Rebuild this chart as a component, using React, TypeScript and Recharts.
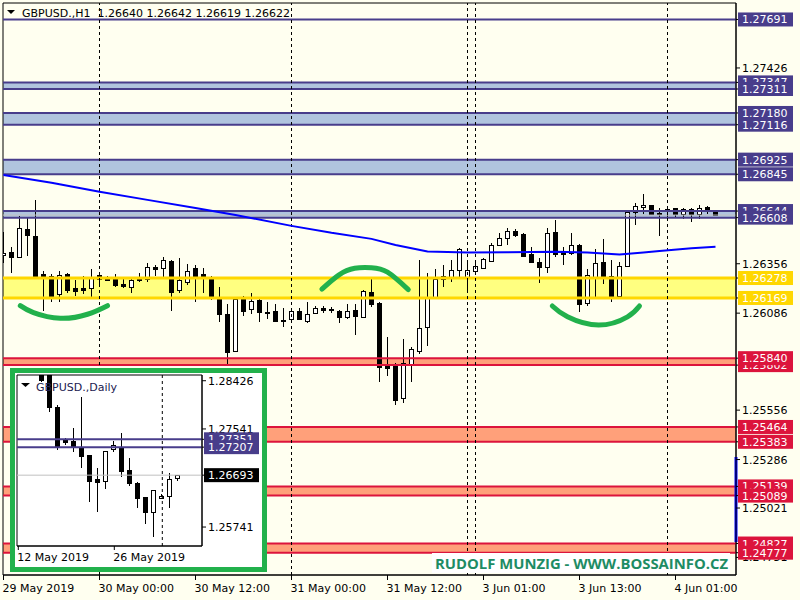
import React from "react";
import { ComposedChart, Bar, Line, XAxis, YAxis, ReferenceArea, ReferenceLine } from "recharts";

const FONT = "DejaVu Sans, sans-serif";

// GBPUSD H1, bar 0 = 29 May 12:00
const h1Open = [
  1.26404, 1.2642, 1.26394, 1.26546, 1.26508, 1.263, 1.26289, 1.26189, 1.26298, 1.26224,
  1.26225, 1.26225, 1.26294, 1.2628, 1.26282, 1.26245, 1.2623, 1.26278, 1.26271, 1.26338,
  1.26334, 1.26371, 1.26213, 1.26258, 1.26331, 1.263, 1.26285, 1.26173, 1.26081, 1.25881,
  1.26167, 1.26107, 1.26158, 1.26094, 1.261, 1.26049, 1.26053, 1.26096, 1.26045, 1.26085,
  1.26114, 1.2611, 1.26098, 1.26066, 1.26103, 1.26066, 1.26203, 1.26142, 1.25799, 1.25799,
  1.2562, 1.25806, 1.25881, 1.2601, 1.26176, 1.26271, 1.26282, 1.2632, 1.26276, 1.26315,
  1.26334, 1.26372, 1.26461, 1.26498, 1.26535, 1.26518, 1.26409, 1.26366, 1.2634, 1.26528,
  1.26416, 1.26416, 1.26461, 1.2614, 1.26285, 1.26364, 1.26289, 1.2618, 1.26344, 1.26641,
  1.26665, 1.26676, 1.26632, 1.26643, 1.26659, 1.26626, 1.26654, 1.26626, 1.26665, 1.2664,
];
const h1High = [
  1.26531, 1.26449, 1.26618, 1.26608, 1.26705, 1.26317, 1.263, 1.26318, 1.26303, 1.26267,
  1.26289, 1.26327, 1.26303, 1.26291, 1.26298, 1.26273, 1.2628, 1.26303, 1.26358, 1.26349,
  1.26393, 1.26375, 1.26386, 1.26355, 1.26349, 1.26331, 1.2629, 1.2623, 1.26136, 1.26173,
  1.2618, 1.26194, 1.26173, 1.26145, 1.26136, 1.26112, 1.26112, 1.26112, 1.26145, 1.26125,
  1.26125, 1.26118, 1.26103, 1.26135, 1.26136, 1.26213, 1.26271, 1.26145, 1.25957, 1.25812,
  1.25943, 1.25903, 1.26376, 1.26308, 1.26327, 1.26349, 1.26376, 1.2644, 1.26376, 1.26376,
  1.26386, 1.26472, 1.26525, 1.2655, 1.26546, 1.26525, 1.26446, 1.26386, 1.26553, 1.26595,
  1.26449, 1.26522, 1.26465, 1.26327, 1.26435, 1.26491, 1.26376, 1.26367, 1.2665, 1.26687,
  1.26736, 1.26678, 1.26659, 1.26659, 1.26662, 1.26662, 1.26659, 1.26677, 1.26673, 1.26642,
];
const h1Low = [
  1.26362, 1.26303, 1.2639, 1.264, 1.26285, 1.261, 1.26149, 1.26149, 1.26198, 1.2618,
  1.26191, 1.26176, 1.2623, 1.26262, 1.26229, 1.26221, 1.26198, 1.26258, 1.26258, 1.26289,
  1.26271, 1.261, 1.26198, 1.2624, 1.26149, 1.26194, 1.26158, 1.2604, 1.25795, 1.25876,
  1.26071, 1.26081, 1.2604, 1.26055, 1.2604, 1.26013, 1.26034, 1.26049, 1.26034, 1.26081,
  1.26088, 1.26088, 1.26031, 1.26053, 1.25966, 1.26063, 1.26121, 1.25711, 1.2574, 1.25584,
  1.25596, 1.25711, 1.25863, 1.25907, 1.26171, 1.2623, 1.26258, 1.26276, 1.26198, 1.26294,
  1.26331, 1.26366, 1.26458, 1.26458, 1.26504, 1.26398, 1.26365, 1.26252, 1.26303, 1.26394,
  1.26349, 1.26404, 1.26094, 1.26127, 1.26176, 1.26244, 1.26149, 1.26162, 1.2634, 1.26568,
  1.26627, 1.26627, 1.26509, 1.26595, 1.26613, 1.26603, 1.26582, 1.26603, 1.26627, 1.26619,
];
const h1Close = [
  1.26416, 1.26394, 1.2655, 1.26513, 1.26289, 1.2628, 1.2618, 1.26293, 1.26213, 1.26209,
  1.26213, 1.26282, 1.26271, 1.26267, 1.2624, 1.26234, 1.26265, 1.26267, 1.26336, 1.26329,
  1.26375, 1.26203, 1.26267, 1.26318, 1.26291, 1.2628, 1.26176, 1.26081, 1.25876, 1.26162,
  1.261, 1.26151, 1.26091, 1.26087, 1.26045, 1.26042, 1.26096, 1.26053, 1.26081, 1.26112,
  1.26103, 1.26101, 1.26063, 1.261, 1.26071, 1.26207, 1.26134, 1.2579, 1.25788, 1.25611,
  1.25812, 1.25889, 1.26004, 1.26173, 1.26271, 1.26287, 1.2632, 1.26435, 1.2632, 1.26342,
  1.2638, 1.26461, 1.26494, 1.26535, 1.26515, 1.264, 1.26367, 1.2634, 1.26522, 1.26409,
  1.26411, 1.26461, 1.26134, 1.26294, 1.26358, 1.2628, 1.26182, 1.26344, 1.26641, 1.2667,
  1.26676, 1.2663, 1.26628, 1.26654, 1.26626, 1.26654, 1.26626, 1.26662, 1.26643, 1.26622,
];

// moving average, read at a few bars
const maBars = [0, 6, 12, 18, 24, 29, 36, 41, 46, 49, 53, 58, 63, 69, 73, 77, 80, 82, 86, 89];
const maValues = [
  1.26841, 1.26799, 1.2675, 1.26705, 1.26661, 1.26623, 1.26563, 1.26525, 1.26492, 1.26459,
  1.26423, 1.26417, 1.26419, 1.26422, 1.26417, 1.26406, 1.26417, 1.26426, 1.26441, 1.26449,
];

const timeTicks = [0, 12, 24, 36, 48, 60, 72, 84];
const timeLabels = [
  "29 May 2019", "30 May 00:00", "30 May 12:00", "31 May 00:00",
  "31 May 12:00", "3 Jun 01:00", "3 Jun 13:00", "4 Jun 01:00",
];
const daySeparators = [12, 36, 58, 59, 83];

const priceTicks = [1.27426, 1.26356, 1.26086, 1.25556, 1.25286, 1.25021, 1.24751];
const topLevel = 1.27691;
const blueBands = [[1.27347, 1.27311], [1.2718, 1.27116], [1.26925, 1.26845], [1.26644, 1.26608]];
const yellowBands = [[1.26278, 1.26169]];
const redBands = [[1.25802, 1.2584], [1.25464, 1.25383], [1.25139, 1.25089], [1.24827, 1.24777]];
const bidPrice = 1.26622;
const volumeSpan = [1.253, 1.24835];

// hand drawn arcs [bar, price]
const arcLeft = [[2.1, 1.26127], [3.75, 1.26089], [7.1, 1.26058], [10.5, 1.2608], [13, 1.26127]];
const arcMiddle = [[39.8, 1.26217], [41.9, 1.26294], [43.9, 1.26331], [46, 1.26334], [48, 1.2631], [50.6, 1.26215]];
const arcRight = [[68.6, 1.26125], [70.5, 1.26066], [74.4, 1.26021], [78, 1.26066], [79.5, 1.26125]];

// daily inset, bar 0 = 15 May
const d1Open = [1.28622, 1.28586, 1.27938, 1.27351, 1.27319, 1.27204, 1.27063, 1.26622, 1.26591, 1.27167, 1.27204, 1.26787, 1.26554, 1.26297, 1.26022, 1.26268, 1.2631, 1.26635];
const d1High = [1.28714, 1.28622, 1.2798, 1.27375, 1.27553, 1.28132, 1.2707, 1.2683, 1.2714, 1.2732, 1.27472, 1.27013, 1.2656, 1.263, 1.26425, 1.26347, 1.26727, 1.26693];
const d1Low = [1.28402, 1.27857, 1.27154, 1.27246, 1.27123, 1.26818, 1.26206, 1.26022, 1.26439, 1.27123, 1.26664, 1.26494, 1.26085, 1.25796, 1.25563, 1.2625, 1.26085, 1.26585];
const d1Close = [1.28439, 1.27938, 1.27215, 1.27307, 1.27204, 1.2705, 1.26591, 1.26573, 1.27136, 1.27246, 1.26775, 1.26543, 1.26268, 1.26022, 1.2642, 1.2631, 1.26622, 1.2669];
const d1Ticks = [1.28426, 1.27541, 1.25741];
const d1Levels = [1.27351, 1.27207];
const d1Bid = 1.26693;
const d1TimeTicks = [-3, 9];
const d1TimeLabels = ["12 May 2019", "26 May 2019"];
const d1Separator = 15;

const BLUE_TAG = { bg: "#483D8B", fg: "#fff" };
const YELLOW_TAG = { bg: "#FFD700", fg: "#fff" };
const RED_TAG = { bg: "#DC143C", fg: "#fff" };
const BLACK_TAG = { bg: "#000", fg: "#fff" };

const h1Data = h1Open.map((o, i) => ({ i, o, h: h1High[i], l: h1Low[i], c: h1Close[i] }));
const maData = maBars.map((b, j) => ({ i: b, v: maValues[j] }));
const toPts = (a: number[][]) => a.map(([i, v]) => ({ i, v }));
const d1Data = d1Open.map((o, k) => ({ k, o, h: d1High[k], l: d1Low[k], c: d1Close[k] }));

const mainTags = new Map<number, { bg: string; fg: string }>();
mainTags.set(topLevel, BLUE_TAG);
blueBands.flat().forEach((v) => mainTags.set(v, BLUE_TAG));
yellowBands.flat().forEach((v) => mainTags.set(v, YELLOW_TAG));
redBands.flat().forEach((v) => mainTags.set(v, RED_TAG));
// later ticks paint over earlier ones, same as the terminal's price tags
const mainYTicks = [...priceTicks, topLevel, ...blueBands.flat(), ...yellowBands.flat(), ...redBands.flat()];

const insetTags = new Map<number, { bg: string; fg: string }>();
d1Levels.forEach((v) => insetTags.set(v, BLUE_TAG));
insetTags.set(d1Bid, BLACK_TAG);
const insetYTicks = [...d1Ticks, ...d1Levels, d1Bid];

function Candle(props: any) {
  const { x, y, width, height, payload } = props;
  if (!payload || !height) return null;
  const { o, h, l, c } = payload;
  const cx = Math.floor(x + width / 2) + 0.5;
  const k = height / (h - l);
  const py = (v: number) => y + (h - v) * k;
  const top = Math.round(py(Math.max(o, c))) + 0.5;
  const bot = Math.round(py(Math.min(o, c))) + 0.5;
  return (
    <g shapeRendering="crispEdges">
      <line x1={cx} x2={cx} y1={y} y2={y + height} stroke="#000" />
      {bot - top < 1 ? (
        <line x1={cx - 2.5} x2={cx + 2.5} y1={top} y2={top} stroke="#000" />
      ) : (
        <rect x={cx - 2} y={top} width={4} height={bot - top} fill={c >= o ? "#fff" : "#000"} stroke="#000" />
      )}
    </g>
  );
}

const priceTick = (tags: Map<number, { bg: string; fg: string }>) => (props: any) => {
  const { x, y, payload } = props;
  const v = Number(payload.value);
  const s = tags.get(v);
  return (
    <g>
      {s && <rect x={x - 4} y={y - 7} width={55} height={14} fill={s.bg} />}
      <text x={x} y={y + 4} fontFamily={FONT} fontSize={11} fill={s ? s.fg : "#000"}>
        {v.toFixed(5)}
      </text>
    </g>
  );
};

const timeTick = (ticks: number[], labels: string[]) => (props: any) => {
  const { x, y, payload } = props;
  const idx = ticks.indexOf(payload.value);
  return (
    <text x={x - 1} y={y + 10} fontFamily={FONT} fontSize={11} fill="#000">
      {labels[idx]}
    </text>
  );
};

export default function App() {
  const bands: React.ReactNode[] = [];
  const addBand = (pair: number[], fill: string, edge: string, w: number, key: string) => {
    bands.push(<ReferenceArea key={key + "a"} y1={pair[0]} y2={pair[1]} fill={fill} fillOpacity={1} stroke="none" />);
    pair.forEach((v, j) =>
      bands.push(<ReferenceLine key={key + "l" + j} y={v} stroke={edge} strokeWidth={w} />)
    );
  };
  blueBands.forEach((p, j) => addBand(p, "#B0C4DE", "#483D8B", 2, "b" + j));
  yellowBands.forEach((p, j) => addBand(p, "#FFFF80", "#FFD700", 3, "y" + j));
  redBands.forEach((p, j) => addBand(p, "#FFA07A", "#DC143C", 2, "r" + j));

  return (
    <div style={{ position: "absolute", left: 0, top: 0, width: 800, height: 600, background: "#FFFFF0", overflow: "hidden" }}>
      <ComposedChart width={800} height={600} data={h1Data} margin={{ top: 3, right: 0, bottom: 0, left: 3 }}>
        <XAxis
          type="number"
          dataKey="i"
          domain={[-0.0625, 91.5625]}
          allowDataOverflow
          ticks={timeTicks}
          interval={0}
          height={25}
          tickSize={5}
          tickMargin={2}
          stroke="#000"
          tick={timeTick(timeTicks, timeLabels)}
        />
        <YAxis
          orientation="right"
          type="number"
          domain={[1.24655, 1.27781]}
          allowDataOverflow
          ticks={mainYTicks}
          interval={0}
          width={64}
          tickSize={4}
          tickMargin={2}
          stroke="#000"
          tick={priceTick(mainTags)}
        />
        {bands}
        <ReferenceLine y={topLevel} stroke="#483D8B" strokeWidth={2} />
        <ReferenceLine y={bidPrice} stroke="#C0C0C0" />
        {daySeparators.map((s) => (
          <ReferenceLine key={"s" + s} x={s} stroke="#000" strokeDasharray="3 3" />
        ))}
        <Line data={maData} dataKey="v" type="linear" stroke="#0000FF" strokeWidth={2} dot={false} isAnimationActive={false} />
        <Bar dataKey={(d: any) => [d.l, d.h]} barSize={5} shape={<Candle />} isAnimationActive={false} />
        {[arcLeft, arcMiddle, arcRight].map((a, j) => (
          <Line key={"arc" + j} data={toPts(a)} dataKey="v" type="natural" stroke="#22B14C" strokeWidth={5} strokeLinecap="round" dot={false} isAnimationActive={false} />
        ))}
        <ReferenceLine segment={[{ x: 91.5625, y: volumeSpan[0] }, { x: 91.5625, y: volumeSpan[1] }]} stroke="#0000FF" strokeWidth={3} ifOverflow="visible" />
        <ReferenceArea x1={-0.0625} x2={91.5625} y1={1.24655} y2={1.27781} fill="none" stroke="#000" />
      </ComposedChart>

      <div style={{ position: "absolute", left: 10, top: 368, width: 257, height: 204, boxSizing: "border-box", border: "5px solid #22B14C", background: "#fff" }}>
        <ComposedChart width={247} height={194} data={d1Data} margin={{ top: 2, right: 0, bottom: 0, left: 2 }}>
          <XAxis
            type="number"
            dataKey="k"
            domain={[-3.1625, 19.9625]}
            allowDataOverflow
            ticks={d1TimeTicks}
            interval={0}
            height={21}
            tickSize={4}
            tickMargin={1}
            stroke="#000"
            tick={timeTick(d1TimeTicks, d1TimeLabels)}
          />
          <YAxis
            orientation="right"
            type="number"
            domain={[1.25393, 1.28531]}
            allowDataOverflow
            ticks={insetYTicks}
            interval={0}
            width={60}
            tickSize={4}
            tickMargin={2}
            stroke="#000"
            tick={priceTick(insetTags)}
          />
          {d1Levels.map((v) => (
            <ReferenceLine key={"d" + v} y={v} stroke="#483D8B" strokeWidth={2} />
          ))}
          <ReferenceLine y={d1Bid} stroke="#C0C0C0" />
          <ReferenceLine x={d1Separator} stroke="#000" strokeDasharray="3 3" />
          <Bar dataKey={(d: any) => [d.l, d.h]} barSize={5} shape={<Candle />} isAnimationActive={false} />
          <ReferenceArea x1={-3.1625} x2={19.9625} y1={1.25393} y2={1.28531} fill="none" stroke="#000" />
        </ComposedChart>
      </div>

      <svg width={800} height={600} style={{ position: "absolute", left: 0, top: 0, pointerEvents: "none" }}>
        <polygon points="7,10 15,10 11,14" fill="#000" />
        <text x={22} y={16.5} fontFamily={FONT} fontSize={11} fill="#000" style={{ whiteSpace: "pre" }}>
          {"GBPUSD.,H1  1.26640 1.26642 1.26619 1.26622"}
        </text>
        <polygon points="21,383 30,383 25.5,387" fill="#000" />
        <text x={36} y={391} fontFamily={FONT} fontSize={11} fill="#202050">
          GBPUSD.,Daily
        </text>
        <rect x={432} y={553} width={298} height={20} fill="#fff" />
        <text x={435} y={568.5} fontFamily="Open Sans, sans-serif" fontWeight="bold" fontSize={14} fill="#1E8C64" textLength={293} lengthAdjust="spacingAndGlyphs">
          RUDOLF MUNZIG - WWW.BOSSAINFO.CZ
        </text>
      </svg>
    </div>
  );
}
